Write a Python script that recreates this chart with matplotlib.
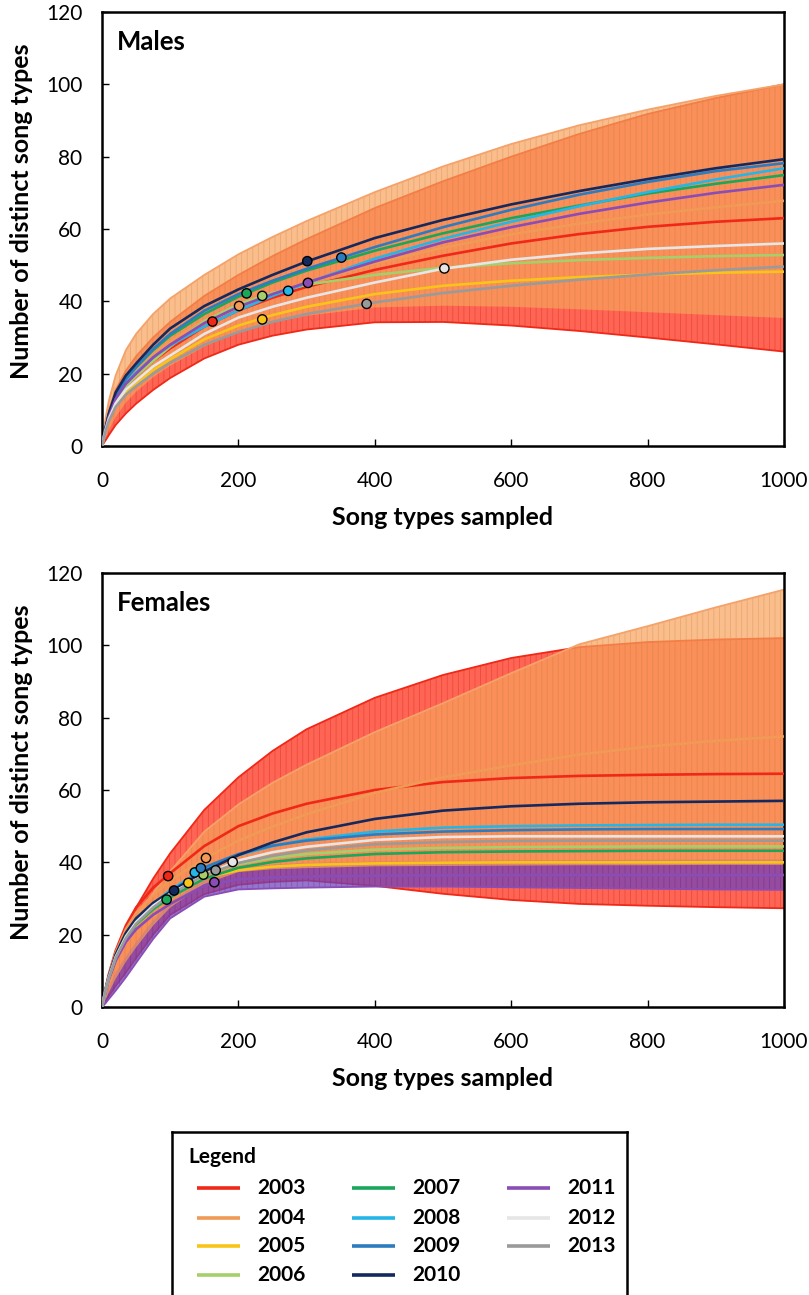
import numpy as np
import matplotlib
matplotlib.use('Agg')
import matplotlib.pyplot as plt

plt.rcParams['font.family'] = ['Lato', 'DejaVu Sans']
plt.rcParams['hatch.linewidth'] = 0.6

years = ['2003', '2004', '2005', '2006', '2007', '2008', '2009', '2010', '2011', '2012', '2013']
colors = ['#f02818', '#f09a55', '#f8c41a', '#a6cf6c', '#1aa75c', '#25b6e8',
          '#2e7cc0', '#14295e', '#8a4db6', '#e6e6e6', '#9a9a9a']

# number of song types sampled (x positions of the curve readings)
sample = [0, 5, 10, 20, 35, 50, 75, 100, 150, 200, 250, 300, 400, 500, 600, 700, 800, 900, 1000]

# males: expected distinct song types per year
m03 = [0, 4.4, 7.8, 12.5, 16.5, 19.3, 23.5, 27, 33, 37.5, 41, 44, 48.7, 52.6, 56, 58.6, 60.6, 62, 63]
m04 = [0, 4.6, 8.3, 13.5, 18, 21, 25.5, 29, 34.8, 38.7, 42.2, 45.3, 50.5, 54.8, 58.5, 61.5, 64, 66, 67.8]
m05 = [0, 4.2, 7.2, 11.2, 14.7, 17, 21, 24, 29.5, 33.3, 36.2, 38.5, 42, 44.3, 45.7, 46.7, 47.4, 47.9, 48.2]
m06 = [0, 4.4, 7.8, 12.5, 16.5, 19.3, 23.5, 27.5, 34.5, 39.2, 42.3, 44.6, 47.3, 49.3, 50.5, 51.4, 52, 52.5, 52.8]
m07 = [0, 4.7, 8.7, 14, 18.6, 21.8, 26.5, 30.5, 36.5, 41.3, 45.2, 48.5, 54, 58.8, 63, 66.5, 69.8, 72.5, 74.9]
m08 = [0, 4.5, 8.2, 13.2, 17.5, 20.3, 24.5, 27.8, 33, 37.5, 41.5, 45, 51.8, 57.3, 62, 66.3, 70.2, 73.7, 76.8]
m09 = [0, 4.7, 8.6, 14, 18.5, 21.8, 26.8, 31, 37.4, 42, 45.7, 49, 55, 60.5, 65.3, 69.5, 73, 76, 78.2]
m10 = [0, 4.8, 9, 14.8, 19.5, 22.8, 28, 32.5, 38.7, 43.3, 47.3, 51, 57.5, 62.5, 66.8, 70.5, 73.8, 76.8, 79.3]
m11 = [0, 4.5, 8, 13, 17.2, 20, 24.5, 28, 34, 38.5, 42, 45.2, 51, 56.3, 60.5, 64.2, 67.3, 70, 72.2]
m12 = [0, 4.3, 7.5, 11.8, 15.6, 18, 22, 25, 31, 35.5, 38.5, 41, 45.2, 49, 51.5, 53.2, 54.5, 55.3, 56]
m13 = [0, 4, 6.9, 10.8, 14.2, 16.5, 20, 23, 28, 31.5, 34.3, 36.5, 39.7, 42.3, 44.3, 46, 47.4, 48.6, 49.6]

# males: observed sample size and song types
m_obs_x = [162, 201, 235, 235, 212, 273, 351, 301, 302, 502, 388]
m_obs_y = [34.4, 38.7, 35.0, 41.5, 42.2, 42.9, 52.1, 51.1, 45.1, 49.1, 39.3]

# males: confidence limits for 2003 and 2004
m03_lo = [0, 1.5, 3, 5.8, 9, 11.7, 15.5, 18.8, 24.2, 28, 30.5, 32.2, 34.2, 34.3, 33.3, 31.8, 30, 28.1, 26.1]
m03_hi = [0, 5.5, 9.8, 15.5, 20.8, 24.8, 30, 34.3, 41.5, 47.3, 52.5, 57.2, 65.8, 73.2, 80, 86.3, 91.8, 96.2, 100]
m04_lo = [0, 2.2, 4.4, 8, 12, 15, 19, 22.2, 27.5, 31.5, 34.2, 36, 38.3, 38.8, 38.5, 37.8, 37, 36.2, 35.4]
m04_hi = [0, 7.5, 12.5, 19.5, 26.5, 31, 36.5, 40.8, 47.3, 53, 57.8, 62.2, 70.2, 77.3, 83.5, 88.7, 93, 96.8, 100]

# females: expected distinct song types per year
f03 = [0, 4.8, 9, 15.5, 22.5, 27.5, 33, 37, 44.5, 50, 53.5, 56.2, 60, 62.2, 63.3, 63.9, 64.2, 64.4, 64.5]
f04 = [0, 4.7, 8.8, 15, 21.5, 26, 31, 35, 41, 46, 49.9, 53.3, 59.2, 63.5, 66.8, 69.8, 72, 73.6, 74.8]
f05 = [0, 4.3, 7.8, 13.2, 18.7, 22.5, 27, 30.8, 35.7, 37.8, 38.8, 39.3, 39.7, 39.9, 40, 40, 40, 40, 40]
f06 = [0, 4.4, 8, 13.5, 19, 22.8, 27, 30.5, 36.7, 39.5, 41.2, 42.3, 43.5, 44, 44.2, 44.3, 44.4, 44.4, 44.4]
f07 = [0, 4.4, 8, 13.5, 19, 22.8, 27, 30.3, 35.5, 38.5, 40.1, 41.1, 42.3, 42.8, 43, 43.1, 43.2, 43.2, 43.2]
f08 = [0, 4.5, 8.3, 14, 19.8, 23.8, 28.5, 32.3, 38.3, 42, 44.5, 46.3, 48.5, 49.6, 50, 50.2, 50.3, 50.4, 50.4]
f09 = [0, 4.5, 8.3, 14, 19.8, 23.8, 28.3, 31.5, 38.6, 42.3, 44.6, 46, 47.7, 48.5, 48.9, 49.1, 49.2, 49.2, 49.2]
f10 = [0, 4.6, 8.5, 14.5, 20.5, 24.5, 28.8, 31.8, 37.5, 42, 45.5, 48.3, 52, 54.3, 55.5, 56.2, 56.6, 56.8, 57]
f11 = [0, 4.2, 7.6, 12.8, 18, 21.5, 25.5, 28.5, 33.6, 35.3, 35.8, 36.1, 36.3, 36.4, 36.5, 36.5, 36.5, 36.5, 36.5]
f12 = [0, 4.5, 8.2, 13.8, 19.5, 23.5, 28, 31.3, 36.5, 40.5, 42.8, 44.3, 46.2, 47, 47.2, 47.2, 47.2, 47.2, 47.2]
f13 = [0, 4.4, 8, 13.5, 19, 23, 27.5, 31, 36.5, 39.8, 41.8, 43.3, 45, 45.6, 45.9, 46, 46, 46, 46]

f_obs_x = [97, 152.5, 126.6, 148.6, 94.8, 136, 145, 105.6, 164.7, 191.6, 166.7]
f_obs_y = [36.2, 41.2, 34.3, 36.6, 29.7, 37.2, 38.4, 32.2, 34.5, 40.1, 37.8]

# females: confidence limits for 2003, 2004 and 2011
f03_lo = [0, 1.5, 3, 5.8, 9.5, 13.5, 20, 25.5, 31.2, 33.8, 34.6, 35, 33.5, 31.3, 29.6, 28.5, 28, 27.6, 27.3]
f03_hi = [0, 4.8, 9, 15, 21.5, 27.5, 35.5, 42.5, 54.5, 63.5, 70.8, 76.8, 85.5, 91.8, 96.5, 99.5, 100.9, 101.6, 102]
f04_lo = [0, 2, 4, 7.8, 12.5, 16.5, 22.5, 27.5, 34, 37.3, 38.1, 38.4, 38.9, 39, 39.1, 39.2, 39.2, 39.3, 39.3]
f04_hi = [0, 4.7, 8.6, 14.2, 20, 24.8, 31.5, 37.5, 48.5, 56, 62, 67, 76, 84, 92.3, 100.3, 105.3, 110.5, 115.4]
f11_lo = [0, 1, 2.2, 4.5, 8.2, 12.2, 18.8, 24.5, 30.5, 32.5, 32.8, 33, 33.3, 33.3, 33.1, 32.9, 32.7, 32.5, 32.4]
f11_hi = [0, 3, 5.5, 9.5, 14, 18, 24, 29, 35.3, 38.5, 39.4, 39.8, 40.2, 40.4, 40.5, 40.6, 40.7, 40.8, 40.8]

red_fill = (1.0, 0.16, 0.08, 0.72)
orange_fill = (0.973, 0.635, 0.357, 0.70)
purple_fill = (0.44, 0.26, 0.73, 0.73)

W, H = 809, 1295
fig = plt.figure(figsize=(W / 100, H / 100), dpi=100)
ax_m = fig.add_axes([102 / W, 1 - 446 / H, 682 / W, 434 / H])
ax_f = fig.add_axes([102 / W, 1 - 1007 / H, 682 / W, 434 / H])


def band(ax, lo, hi, fill, edge, edges=('lo', 'hi')):
    hatch_col = tuple(c * 0.85 for c in fill[:3]) + (fill[3] * 0.6,)
    ax.fill_between(sample, lo, hi, facecolor=fill, edgecolor=hatch_col,
                    hatch='|||', linewidth=0, zorder=1)
    if 'lo' in edges:
        ax.plot(sample, lo, color=edge, lw=1.3, zorder=1)
    if 'hi' in edges:
        ax.plot(sample, hi, color=edge, lw=1.3, zorder=1)


def panel(ax, curves, obs_x, obs_y, title):
    for yr, vals, col in zip(years, curves, colors):
        ax.plot(sample, vals, color=col, lw=1.9, zorder=3)
    ax.scatter(obs_x, obs_y, s=45, c=colors, edgecolors='black', linewidths=1.0, zorder=5)
    ax.set_xlim(0, 1000)
    ax.set_ylim(0, 120)
    ax.set_xticks(np.arange(0, 1001, 200))
    ax.set_yticks(np.arange(0, 121, 20))
    ax.tick_params(direction='in', length=5, width=1, labelsize=15)
    ax.tick_params(axis='x', pad=18)
    ax.tick_params(axis='y', pad=14)
    for s in ax.spines.values():
        s.set_linewidth(1.8)
    ax.set_xlabel('Song types sampled', fontsize=18, fontweight='bold')
    ax.set_ylabel('Number of distinct song types', fontsize=18, fontweight='bold')
    ax.xaxis.set_label_coords(0.5, -0.138)
    ax.yaxis.set_label_coords(-0.101, 0.54)
    ax.text(0.022, 0.93, title, transform=ax.transAxes, fontsize=18.5,
            fontweight='bold', ha='left', va='center')


# males panel
band(ax_m, m03_lo, m03_hi, red_fill, '#f02818')
band(ax_m, m04_lo, m04_hi, orange_fill, '#f5a26a', edges=('hi',))
panel(ax_m, [m03, m04, m05, m06, m07, m08, m09, m10, m11, m12, m13],
      m_obs_x, m_obs_y, 'Males')

# females panel
band(ax_f, f03_lo, f03_hi, red_fill, '#f02818')
band(ax_f, f11_lo, f11_hi, purple_fill, '#8a4db6', edges=('lo',))
band(ax_f, f04_lo, f04_hi, orange_fill, '#f5a26a', edges=('hi',))
panel(ax_f, [f03, f04, f05, f06, f07, f08, f09, f10, f11, f12, f13],
      f_obs_x, f_obs_y, 'Females')

# legend box, drawn in its own axes (bottom edge runs off the page)
lg = fig.add_axes([172 / W, -0.02, 455 / W, (H - 1132) / H + 0.02])
lg.set_xlim(0, 455)
lg.set_ylim(163 + 0.02 * H, 0)
lg.set_xticks([])
lg.set_yticks([])
for s in lg.spines.values():
    s.set_linewidth(1.8)
lg.text(16, 25, 'Legend', fontsize=15, fontweight='bold', va='center', ha='left')
col_x = [25, 180, 335]
row_y = [56, 86, 114, 143]
for i, (yr, col) in enumerate(zip(years, colors)):
    cx = col_x[i // 4]
    ry = row_y[i % 4]
    lg.plot([cx, cx + 43], [ry, ry], color=col, lw=2.6, solid_capstyle='butt')
    lg.text(cx + 60, ry, yr, fontsize=15, fontweight='bold', va='center', ha='left')

fig.savefig('out.png', dpi=100)
